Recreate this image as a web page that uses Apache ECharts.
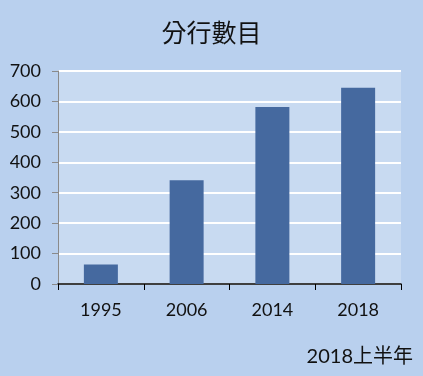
<!DOCTYPE html>
<html lang="zh-Hant">
<head>
    <meta charset="UTF-8">
    <title>分行數目</title>
    <script src="https://cdn.jsdelivr.net/npm/echarts@6.0.0/dist/echarts.min.js"></script>
    <style>
        html, body { margin: 0; padding: 0; background: #b9d0ee; }
        #chart { width: 423px; height: 376px; }
    </style>
</head>
<body>
    <div id="chart"></div>
    <script>
        // данные графика
        const years = ['1995', '2006', '2014', '2018'];
        const branches = [64, 341, 582, 645];
        const titleText = '分行數目';
        const noteText = '2018上半年';

        let chart = echarts.init(document.getElementById('chart'));

        let option = {
            backgroundColor: '#b9d0ee',
            animation: false,
            title: {
                text: titleText,
                left: 'center',
                top: 15,
                textStyle: { fontFamily: 'Noto Sans CJK TC', fontSize: 25, fontWeight: 'normal', color: '#111' }
            },
            graphic: [{
                type: 'text',
                right: 10,
                top: 347,
                style: { text: noteText, fontFamily: 'Lato, "Noto Sans CJK TC"', fontSize: 20, fill: '#111' }
            }],
            grid: {
                left: 58, right: 22, top: 71, bottom: 92,
                show: true, backgroundColor: '#c8daf1', borderWidth: 0
            },
            xAxis: {
                type: 'category',
                data: years,
                axisLine: { lineStyle: { color: '#000', width: 1.5 } },
                axisTick: { show: true, length: 6, lineStyle: { color: '#000' } },
                axisLabel: { color: '#111', fontSize: 18, fontFamily: 'Lato', margin: 17 }
            },
            yAxis: {
                type: 'value',
                min: 0, max: 700, interval: 100,
                axisLine: { show: true, lineStyle: { color: '#8a8a8a' } },
                axisTick: { show: true, length: 6, lineStyle: { color: '#8a8a8a' } },
                axisLabel: { color: '#111', fontSize: 18, fontFamily: 'Lato', margin: 17 },
                splitLine: { show: true, lineStyle: { color: '#ffffff', width: 2 } }
            },
            series: [{
                type: 'bar',
                data: branches,
                barWidth: 34,
                itemStyle: { color: '#45699f' }
            }]
        };
        chart.setOption(option);
    </script>
</body>
</html>
